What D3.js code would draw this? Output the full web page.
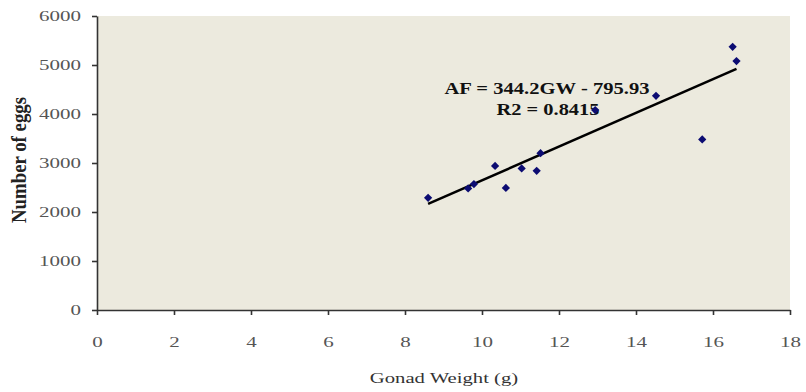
<!DOCTYPE html>
<html><head><meta charset="utf-8">
<script src="https://cdn.jsdelivr.net/npm/d3@7"></script>
<style>body{margin:0;background:#fff}</style></head>
<body><svg id="c" width="806" height="392"></svg>
<script>
// ---- data ----
const gonadWeight = [8.6, 9.64, 9.79, 10.34, 10.62, 11.03, 11.42, 11.52, 12.94, 14.52, 15.72, 16.51, 16.61];
const eggCount    = [2290, 2480, 2570, 2940, 2490, 2890, 2840, 3200, 4080, 4370, 3480, 5370, 5080];
const xTickValues = [0, 2, 4, 6, 8, 10, 12, 14, 16, 18];
const yTickValues = [0, 1000, 2000, 3000, 4000, 5000, 6000];
const trendSlope = 344.2, trendIntercept = -795.93;
const equationLines = ["AF = 344.2GW - 795.93", "R2 = 0.8415"];
const xTitle = "Gonad Weight (g)", yTitle = "Number of eggs";

// ---- layout ----
const svg = d3.select("#c");
const plotL = 97, plotR = 790, plotT = 16, plotB = 310;
const serif = "'Liberation Serif','Times New Roman',serif";
const x = d3.scaleLinear().domain([0, 18]).range([plotL, plotR]);
const y = d3.scaleLinear().domain([0, 6000]).range([plotB, plotT]);

svg.append("rect").attr("x", plotL).attr("y", plotT)
  .attr("width", plotR - plotL).attr("height", plotB - plotT).attr("fill", "#eceade");

// axes
const gx = svg.append("g").attr("transform", `translate(0,${plotB})`)
  .call(d3.axisBottom(x).tickValues(xTickValues).tickSize(5).tickSizeOuter(0).tickFormat(d3.format("d")));
const gy = svg.append("g").attr("transform", `translate(${plotL},0)`)
  .call(d3.axisLeft(y).tickValues(yTickValues).tickSize(5).tickSizeOuter(0).tickFormat(d3.format("d")));
[gx, gy].forEach(g => {
  g.select(".domain").attr("stroke", "#333").attr("stroke-width", 1.6);
  g.selectAll(".tick line").attr("stroke", "#333").attr("stroke-width", 1.6);
  g.selectAll(".tick text").attr("font-family", serif).attr("font-size", 15).attr("fill", "#555");
});
gx.selectAll(".tick text").attr("y", 0).attr("dy", 0)
  .attr("transform", "translate(0,37) scale(1.4,1)").attr("text-anchor", "middle");
gy.selectAll(".tick text").attr("x", 0).attr("dy", "0.32em")
  .attr("transform", "translate(-16,0) scale(1.4,1)").attr("text-anchor", "end");

// trendline
const xMin = d3.min(gonadWeight), xMax = d3.max(gonadWeight);
svg.append("line")
  .attr("x1", x(xMin)).attr("y1", y(trendSlope * xMin + trendIntercept))
  .attr("x2", x(xMax)).attr("y2", y(trendSlope * xMax + trendIntercept))
  .attr("stroke", "#000").attr("stroke-width", 2.5);

// equation
svg.append("text").attr("x", 547).attr("y", 94).attr("text-anchor", "middle")
  .attr("font-family", serif).attr("font-weight", "bold").attr("font-size", 17).attr("fill", "#111")
  .attr("textLength", 205).attr("lengthAdjust", "spacingAndGlyphs").text(equationLines[0]);
svg.append("text").attr("x", 548).attr("y", 115).attr("text-anchor", "middle")
  .attr("font-family", serif).attr("font-weight", "bold").attr("font-size", 17).attr("fill", "#111")
  .attr("textLength", 103).attr("lengthAdjust", "spacingAndGlyphs").text(equationLines[1]);

// points
const sym = d3.symbol().type(d3.symbolSquare).size(34);
svg.append("g").selectAll("path").data(gonadWeight.map((g, i) => [g, eggCount[i]])).join("path")
  .attr("d", sym)
  .attr("transform", d => `translate(${x(d[0])},${y(d[1])}) rotate(45)`)
  .attr("fill", "#0c0c72");

// titles
svg.append("text").attr("x", 0).attr("y", 0).attr("text-anchor", "middle")
  .attr("transform", "translate(444,383) scale(1.38,1)")
  .attr("font-family", serif).attr("font-size", 15).attr("fill", "#333").text(xTitle);
svg.append("text").attr("x", 0).attr("y", 0).attr("text-anchor", "middle")
  .attr("transform", "translate(26,160) scale(1.3,1) rotate(-90)")
  .attr("font-family", serif).attr("font-weight", "bold").attr("font-size", 16).attr("fill", "#222")
  .attr("textLength", 126).attr("lengthAdjust", "spacingAndGlyphs").text(yTitle);
</script></body></html>
